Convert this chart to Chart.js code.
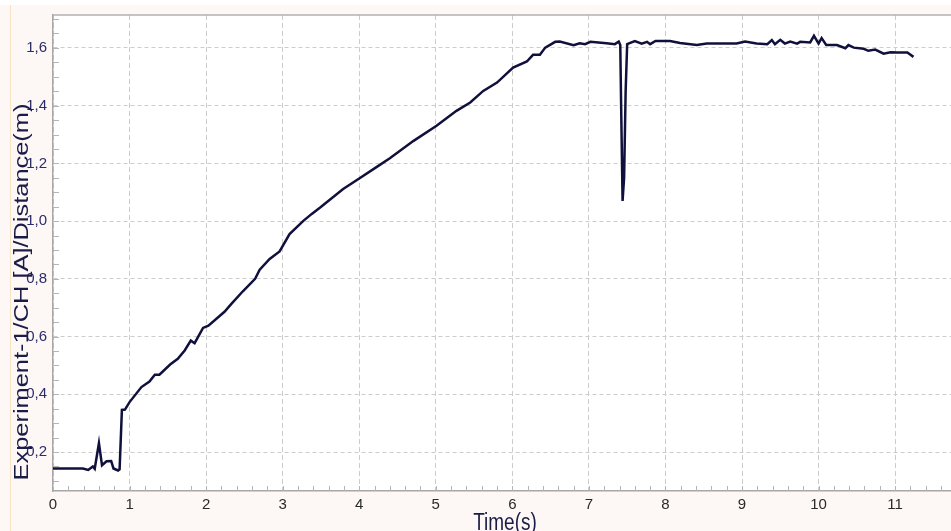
<!DOCTYPE html>
<html>
<head>
<meta charset="utf-8">
<title>Experiment-1 Distance</title>
<script src="https://cdn.jsdelivr.net/npm/chart.js@4.4.1/dist/chart.umd.min.js"></script>
<style>
  html, body { margin: 0; padding: 0; background: #fff; }
  #wrap { width: 951px; height: 531px; position: relative; }
</style>
</head>
<body>
<div id="wrap"><canvas id="graph"></canvas></div>
<script>
// time in seconds, distance in metres
const times = [
  0, 0.39, 0.46, 0.52, 0.545, 0.60, 0.64, 0.70, 0.76, 0.79, 0.85, 0.87, 0.90, 0.94,
  1.00, 1.155, 1.26, 1.33, 1.39, 1.53, 1.63, 1.72, 1.80, 1.85, 1.96, 2.03, 2.24, 2.33,
  2.48, 2.64, 2.70, 2.83, 2.96, 3.09, 3.27, 3.38, 3.49, 3.79, 3.99, 4.23, 4.40, 4.71,
  5.01, 5.27, 5.45, 5.62, 5.80, 6.01, 6.19, 6.27, 6.36, 6.43, 6.56, 6.62, 6.80, 6.88,
  6.95, 7.02, 7.23, 7.34, 7.39, 7.41, 7.42, 7.44, 7.46, 7.48, 7.50, 7.60, 7.69, 7.76,
  7.80, 7.87, 8.06, 8.19, 8.41, 8.54, 8.80, 8.93, 9.04, 9.19, 9.33, 9.39, 9.43, 9.50,
  9.56, 9.63, 9.72, 9.76, 9.89, 9.94, 10.00, 10.04, 10.10, 10.24, 10.35, 10.39, 10.46,
  10.59, 10.65, 10.74, 10.85, 10.94, 11.03, 11.16, 11.24
];
const distances = [
  0.143, 0.143, 0.138, 0.150, 0.142, 0.231, 0.154, 0.168, 0.169, 0.143, 0.136, 0.140, 0.346, 0.347,
  0.373, 0.425, 0.444, 0.468, 0.468, 0.503, 0.523, 0.552, 0.586, 0.577, 0.630, 0.638, 0.686, 0.713,
  0.757, 0.800, 0.832, 0.869, 0.895, 0.955, 1.001, 1.025, 1.047, 1.111, 1.146, 1.188, 1.218, 1.278,
  1.330, 1.382, 1.411, 1.451, 1.480, 1.532, 1.553, 1.576, 1.576, 1.601, 1.621, 1.622, 1.609, 1.616,
  1.613, 1.621, 1.616, 1.613, 1.622, 1.610, 1.420, 1.070, 1.150, 1.450, 1.613, 1.624, 1.615, 1.621,
  1.613, 1.624, 1.624, 1.617, 1.610, 1.615, 1.615, 1.615, 1.622, 1.615, 1.613, 1.627, 1.613, 1.628,
  1.615, 1.622, 1.615, 1.621, 1.619, 1.642, 1.615, 1.634, 1.610, 1.610, 1.599, 1.610, 1.601,
  1.597, 1.590, 1.594, 1.580, 1.585, 1.584, 1.584, 1.569
];

const xTicks = [0, 1, 2, 3, 4, 5, 6, 7, 8, 9, 10, 11];
const yTicks = [0.2, 0.4, 0.6, 0.8, 1.0, 1.2, 1.4, 1.6];
const yTickLabels = ['0,2', '0,4', '0,6', '0,8', '1,0', '1,2', '1,4', '1,6'];

const xTitle = 'Time(s)';
const yTitle = 'Experiment-1/CH [A]/Distance(m)';

const points = times.map((t, i) => ({ x: t, y: distances[i] }));

const framePlugin = {
  id: 'frame',
  beforeDraw(chart) {
    const ctx = chart.ctx, a = chart.chartArea;
    ctx.save();
    ctx.fillStyle = '#ffffff';
    ctx.fillRect(0, 0, chart.width, chart.height);
    ctx.fillStyle = '#fdf8f6';
    ctx.fillRect(0, 5, chart.width, chart.height - 5);
    ctx.fillStyle = '#fbe4c6';
    ctx.fillRect(10, 5, 1, chart.height - 5);
    ctx.fillStyle = '#ffffff';
    ctx.fillRect(a.left, a.top, a.right - a.left, a.bottom - a.top);
    ctx.restore();
  },
  beforeDatasetsDraw(chart) {
    const ctx = chart.ctx, a = chart.chartArea;
    const xs = chart.scales.x, ys = chart.scales.y;
    ctx.save();
    ctx.strokeStyle = '#b4b4b4';
    ctx.lineWidth = 1;
    ctx.beginPath();
    // small ticks every 0.2 s on the time axis
    for (let i = 1; i * 0.2 < xs.max; i++) {
      const px = Math.round(xs.getPixelForValue(i * 0.2)) + 0.5;
      ctx.moveTo(px, a.bottom);
      ctx.lineTo(px, a.bottom - 5);
    }
    // small ticks every 0.05 m on the distance axis
    for (let i = 2; i * 0.05 < ys.max; i++) {
      const py = Math.round(ys.getPixelForValue(i * 0.05)) + 0.5;
      ctx.moveTo(a.left, py);
      ctx.lineTo(a.left + 6, py);
    }
    ctx.stroke();
    // top frame line
    ctx.strokeStyle = '#b0b0b0';
    ctx.lineWidth = 1.5;
    ctx.beginPath();
    ctx.moveTo(a.left, a.top);
    ctx.lineTo(a.right, a.top);
    ctx.stroke();
    ctx.restore();
  },
  afterDraw(chart) {
    const ctx = chart.ctx, a = chart.chartArea;
    ctx.save();
    ctx.fillStyle = '#1b1b48';
    ctx.font = '20px "Liberation Sans", Arial, sans-serif';
    ctx.textAlign = 'center';
    ctx.textBaseline = 'middle';
    ctx.translate(22, 292);
    ctx.rotate(-Math.PI / 2);
    ctx.scale(1.27, 1);
    ctx.fillText(yTitle, 0, 0);
    ctx.restore();

    ctx.save();
    ctx.fillStyle = '#1b1b48';
    ctx.font = '19px "Liberation Sans", Arial, sans-serif';
    ctx.textAlign = 'center';
    ctx.textBaseline = 'top';
    ctx.translate((a.left + a.right) / 2 + 3, 511);
    ctx.scale(1, 1.27);
    ctx.fillText(xTitle, 0, 0);
    ctx.restore();
  }
};

new Chart(document.getElementById('graph'), {
  type: 'line',
  data: {
    datasets: [{
      label: yTitle,
      data: points,
      borderColor: '#10103c',
      borderWidth: 2.5,
      pointRadius: 0,
      tension: 0,
      fill: false
    }]
  },
  options: {
    responsive: true,
    maintainAspectRatio: false,
    animation: false,
    events: [],
    layout: { padding: { top: 14, right: 0, bottom: 0, left: 0 } },
    plugins: {
      legend: { display: false },
      tooltip: { enabled: false },
      title: { display: false }
    },
    scales: {
      x: {
        type: 'linear',
        min: 0,
        max: 11.73,
        afterBuildTicks: scale => { scale.ticks = xTicks.map(v => ({ value: v })); },
        afterFit: scale => { scale.height = 40; },
        grid: {
          color: '#cccccc',
          lineWidth: 1,
          drawTicks: false,
          tickBorderDash: [5, 3]
        },
        border: { display: true, color: '#a8a8a8', width: 1.5, dash: [5, 3] },
        ticks: {
          padding: 5,
          color: '#2a2a2a',
          font: { family: '"Liberation Sans", Arial, sans-serif', size: 15 },
          maxRotation: 0,
          callback: v => String(v)
        }
      },
      y: {
        type: 'linear',
        min: 0.065,
        max: 1.714,
        afterBuildTicks: scale => { scale.ticks = yTicks.map(v => ({ value: v })); },
        afterFit: scale => { scale.width = 53; },
        grid: {
          color: '#cccccc',
          lineWidth: 1,
          drawTicks: false
        },
        border: { display: true, color: '#a8a8a8', width: 1.5, dash: [4, 3] },
        ticks: {
          padding: 6,
          color: '#2c2c68',
          font: { family: '"Liberation Sans", Arial, sans-serif', size: 15 },
          callback: (v, i) => yTickLabels[i]
        }
      }
    }
  },
  plugins: [framePlugin]
});
</script>
</body>
</html>
